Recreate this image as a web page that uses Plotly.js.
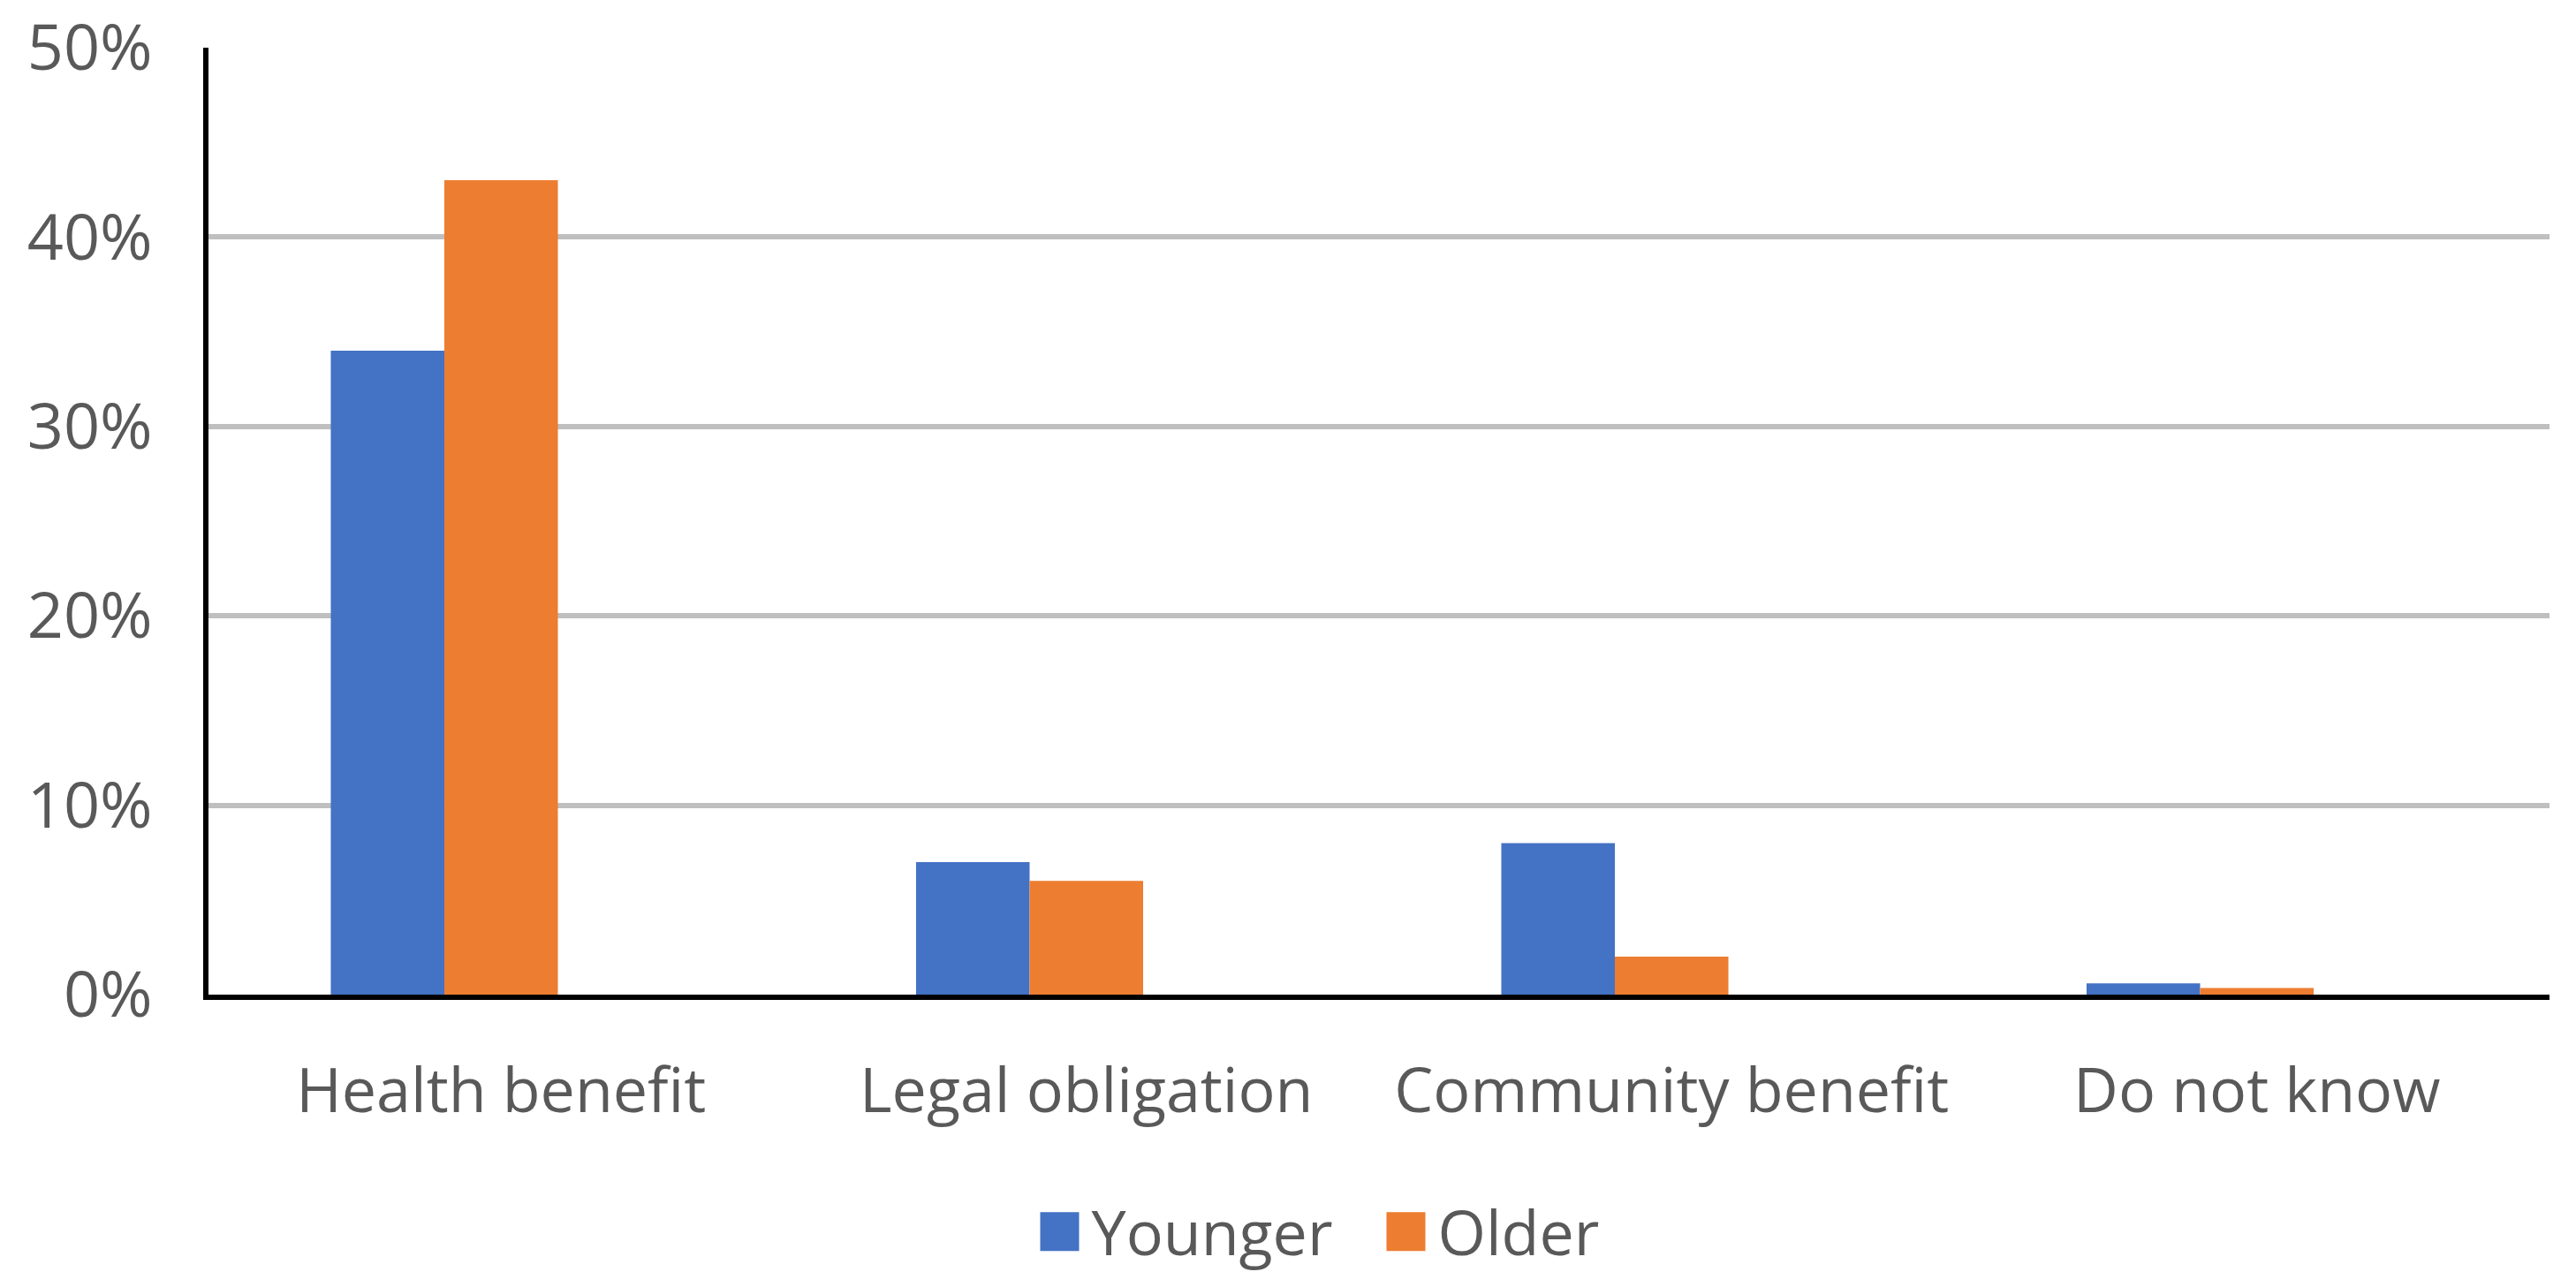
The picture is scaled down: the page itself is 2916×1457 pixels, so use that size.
<!DOCTYPE html>
<html>
<head>
<meta charset="utf-8">
<script src="https://cdn.plot.ly/plotly-3.0.1.min.js"></script>
<style>
  html, body { margin: 0; padding: 0; background: #ffffff; }
  #chart { width: 2916px; height: 1457px; }
</style>
</head>
<body>
<div id="chart"></div>
<script>
const categories = ["Health benefit", "Legal obligation", "Community benefit", "Do not know"];
const younger = [0.34, 0.07, 0.08, 0.006];
const older = [0.43, 0.06, 0.02, 0.0035];
const seriesNames = ["Younger", "Older"];
const yTickVals = [0, 0.1, 0.2, 0.3, 0.4, 0.5];
const yTickText = ["0%", "10%", "20%", "30%", "40%", "50%"];

const FONT = "Open Sans, Noto Sans, sans-serif";
const TEXT_COLOR = "#595959";
const BAR_W = 0.194;

const data = [
  {
    type: "bar", name: seriesNames[0], x: categories, y: younger,
    marker: { color: "#4472C4", line: { width: 0 } },
    width: BAR_W, offset: -0.291, hoverinfo: "skip"
  },
  {
    type: "bar", name: seriesNames[1], x: categories, y: older,
    marker: { color: "#ED7D31", line: { width: 0 } },
    width: BAR_W, offset: -0.097, hoverinfo: "skip"
  }
];

const layout = {
  width: 2916, height: 1457,
  margin: { l: 236, r: 30, t: 54, b: 330, pad: 0 },
  paper_bgcolor: "#ffffff", plot_bgcolor: "#ffffff",
  font: { family: FONT, size: 70, color: TEXT_COLOR },
  barmode: "overlay",
  showlegend: true,
  legend: {
    orientation: "h", x: 0.350, xanchor: "left", y: -0.249, yanchor: "middle",
    font: { family: FONT, size: 70, color: TEXT_COLOR },
    itemwidth: 62, entrywidth: 315, entrywidthmode: "pixels",
    traceorder: "normal", bgcolor: "rgba(0,0,0,0)"
  },
  xaxis: {
    type: "category", range: [-0.5, 3.5],
    showline: true, linecolor: "#000000", linewidth: 6,
    showgrid: false, zeroline: false, ticks: "",
    ticklabelstandoff: 43,
    tickfont: { family: FONT, size: 70, color: TEXT_COLOR },
    fixedrange: true
  },
  yaxis: {
    range: [0, 0.5], tickvals: yTickVals, ticktext: yTickText,
    showline: true, linecolor: "#000000", linewidth: 6,
    showgrid: true, gridcolor: "#BFBFBF", gridwidth: 6,
    zeroline: false, ticks: "",
    ticklabelstandoff: 43,
    tickfont: { family: FONT, size: 72, color: TEXT_COLOR },
    fixedrange: true
  }
};

Plotly.newPlot("chart", data, layout, { staticPlot: true, displayModeBar: false }).then(function () {
  document.querySelectorAll(".legend .legendpoints path").forEach(function (p) {
    p.setAttribute("d", "M22,22H-22V-22H22Z");
  });
});
</script>
</body>
</html>
